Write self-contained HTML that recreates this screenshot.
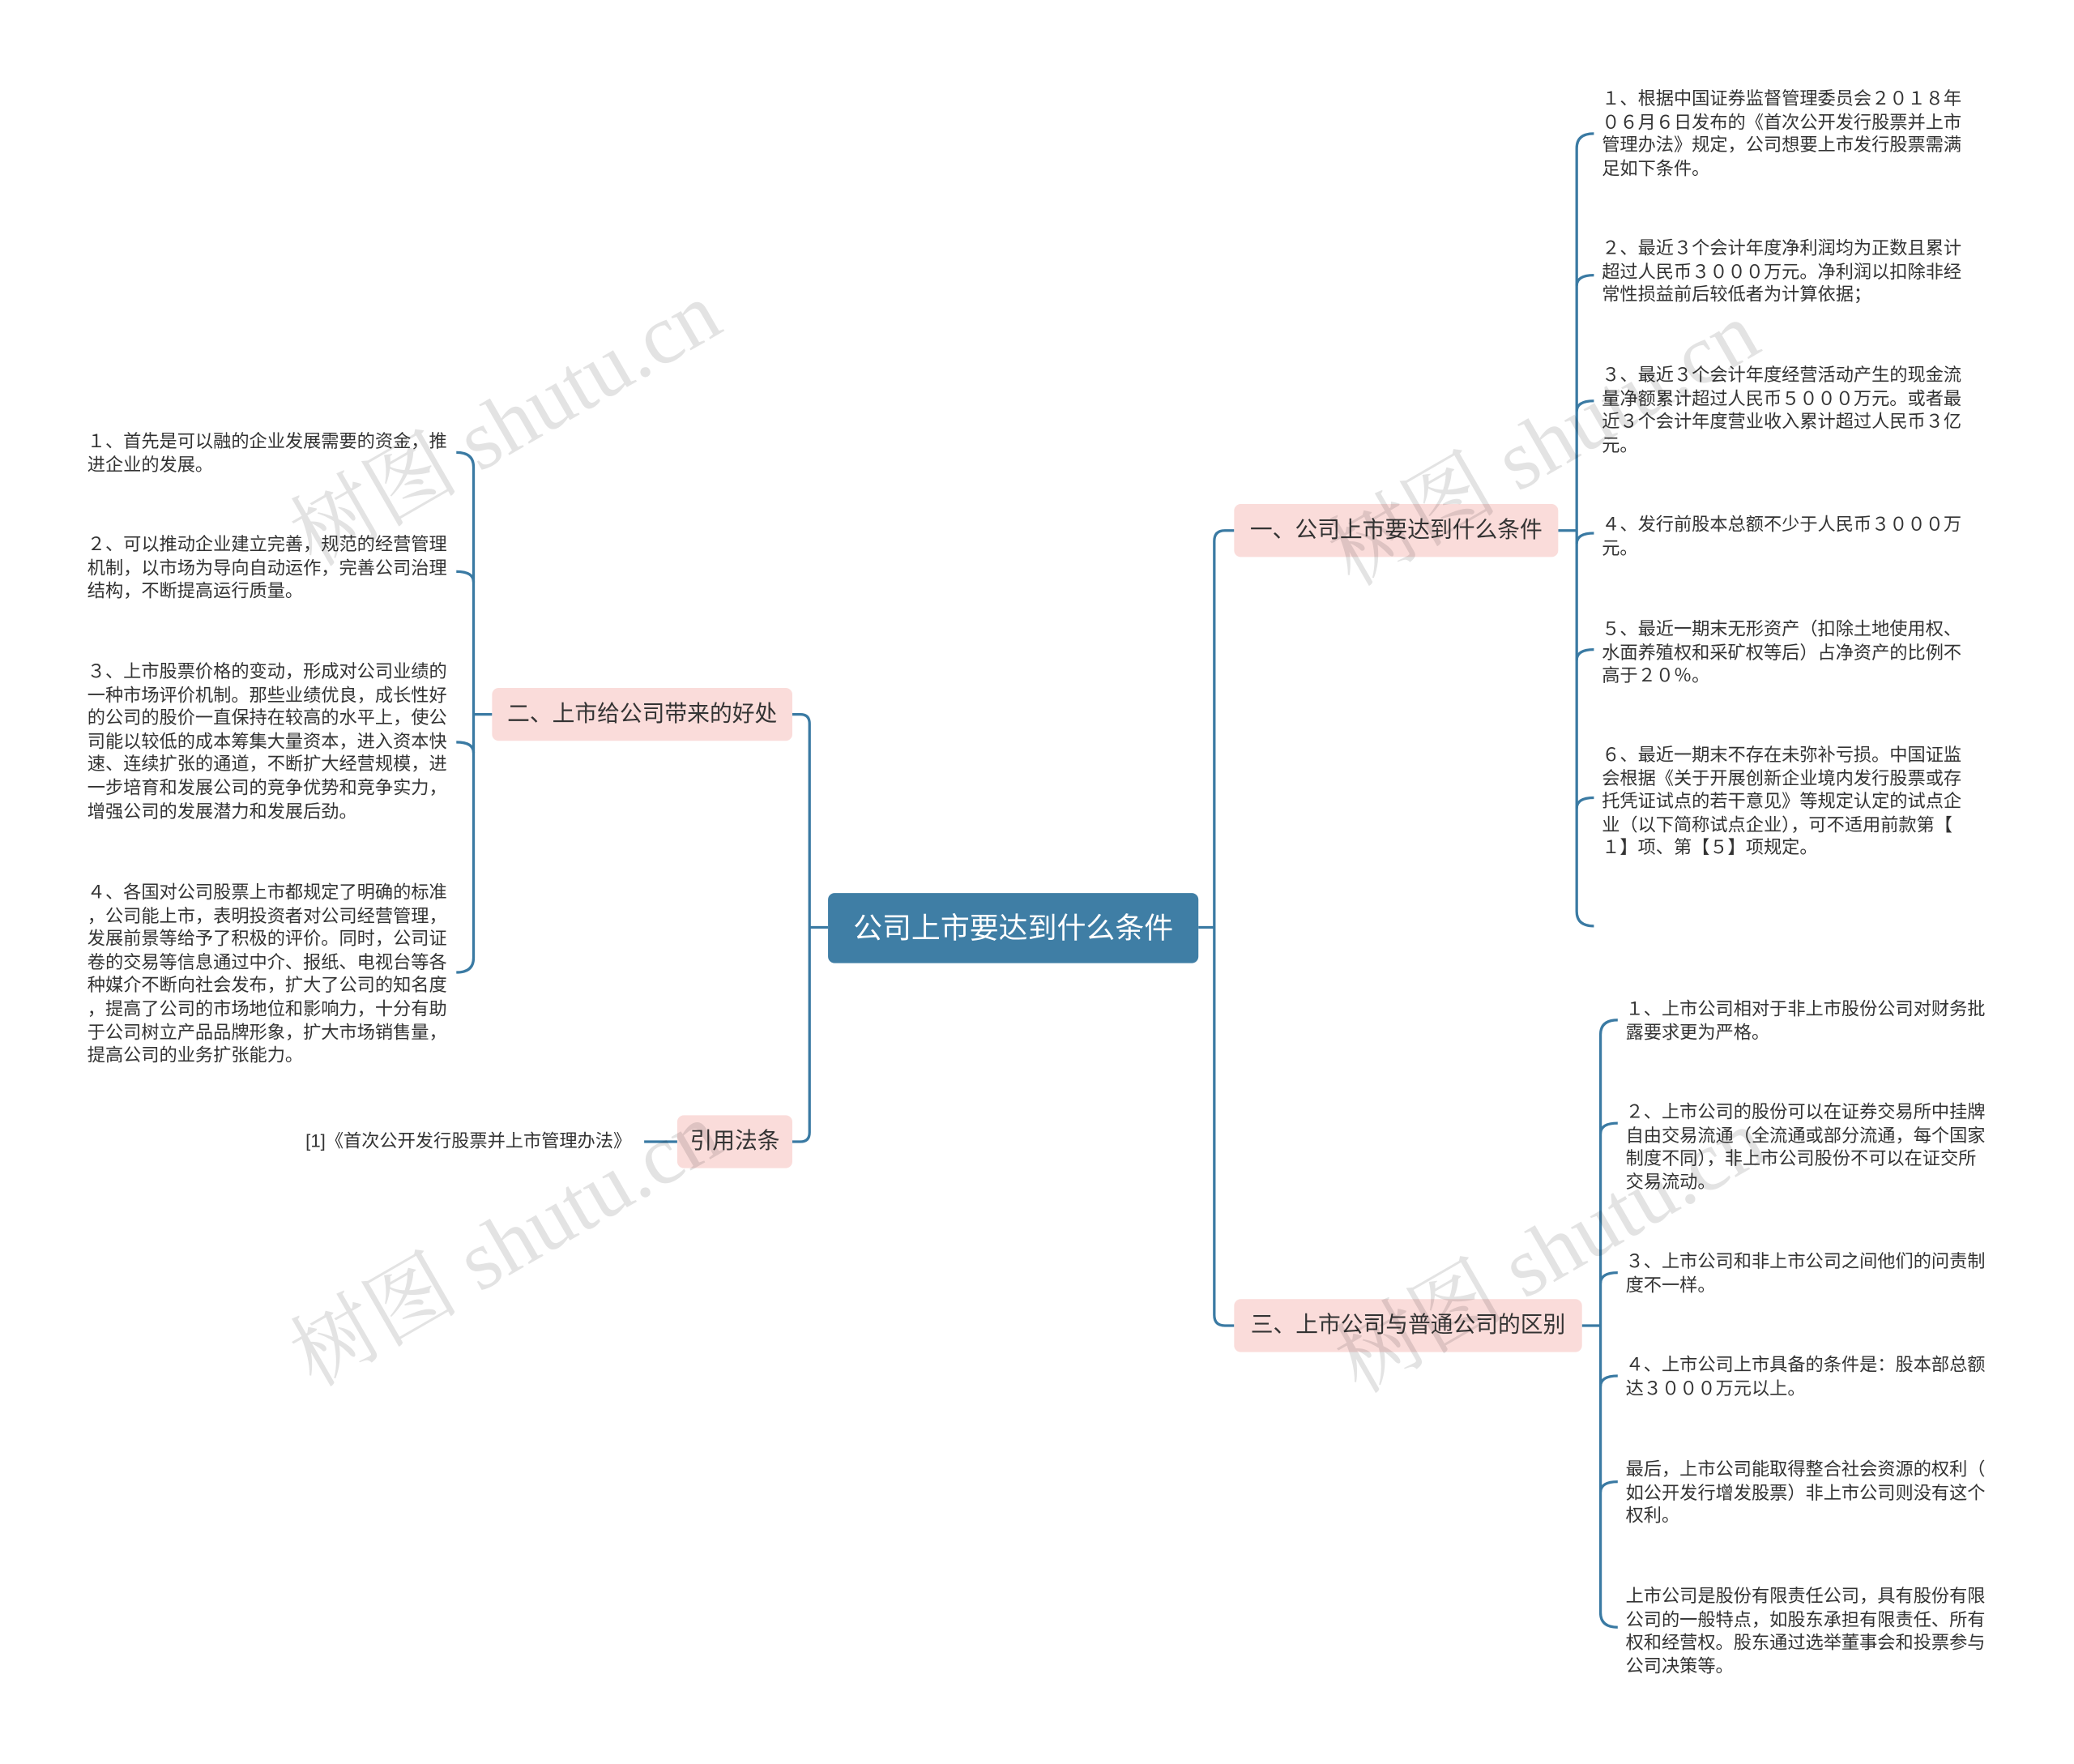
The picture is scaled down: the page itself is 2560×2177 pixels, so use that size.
<!DOCTYPE html>
<html><head><meta charset="utf-8"><style>
html,body{margin:0;padding:0;background:#fff;}
body{width:2560px;height:2177px;overflow:hidden;position:relative;}
#c{position:absolute;left:0;top:0;width:1568px;height:1333px;transform:scale(1.6327);transform-origin:0 0;font-family:"Liberation Sans","Noto Sans CJK SC",sans-serif;}
.t{position:absolute;font-size:13.6px;line-height:17.6px;color:#333;white-space:nowrap;}
.b{position:absolute;background:#fadcda;border-radius:5px;height:40px;line-height:40px;font-size:17px;color:#333;text-align:center;}
.wm{position:absolute;font-family:"Liberation Serif","Noto Serif CJK SC",serif;font-size:64px;color:rgba(0,0,0,0.11);white-space:nowrap;transform:rotate(-30deg);transform-origin:center;}
</style></head><body><div id="c">
<svg width="1568" height="1333" style="position:absolute;left:0;top:0" fill="none" stroke="#3a7aa3" stroke-width="2">
<path d="M906 701 H918"/>
<path d="M933 401 H926 Q918 401 918 409 V994 Q918 1002 926 1002 H933"/>
<path d="M626 701 H612"/>
<path d="M599 540 H605 Q612 540 612 547 V856 Q612 863 605 863 H599"/>
<path d="M512 863 H487"/>
<path d="M1178 401 H1192"/>
<path d="M1205 101 Q1192 101 1192 112 V689 Q1192 700 1205 700"/>
<path d="M1192 216 Q1192 208 1205 208"/>
<path d="M1192 311 Q1192 303 1205 303"/>
<path d="M1192 411 Q1192 403 1205 403"/>
<path d="M1192 499 Q1192 491 1205 491"/>
<path d="M1192 611 Q1192 603 1205 603"/>
<path d="M1196 1002 H1210"/>
<path d="M1223 771 Q1210 771 1210 782 V1219 Q1210 1230 1223 1230"/>
<path d="M1210 857 Q1210 849 1223 849"/>
<path d="M1210 970 Q1210 962 1223 962"/>
<path d="M1210 1048 Q1210 1040 1223 1040"/>
<path d="M1210 1128 Q1210 1120 1223 1120"/>
<path d="M358 540 H372"/>
<path d="M345 342 Q358 342 358 353 V724 Q358 735 345 735"/>
<path d="M358 440 Q358 432 345 432"/>
<path d="M358 569 Q358 561 345 561"/>
</svg>
<div style="position:absolute;left:626px;top:675px;width:280px;height:53px;background:#3f7ea5;border-radius:5px;color:#fff;font-size:22px;line-height:53px;text-align:center;">公司上市要达到什么条件</div>
<div class="b" style="left:933px;top:381px;width:245px;">一、公司上市要达到什么条件</div>
<div class="b" style="left:372px;top:520px;width:227px;">二、上市给公司带来的好处</div>
<div class="b" style="left:512px;top:843px;width:87px;">引用法条</div>
<div class="b" style="left:933px;top:982px;width:263px;">三、上市公司与普通公司的区别</div>

<div class="t" style="left:1211px;top:66px;">１、根据中国证券监督管理委员会２０１８年<br>０６月６日发布的《首次公开发行股票并上市<br>管理办法》规定，公司想要上市发行股票需满<br>足如下条件。</div>
<div class="t" style="left:1211px;top:179px;">２、最近３个会计年度净利润均为正数且累计<br>超过人民币３０００万元。净利润以扣除非经<br>常性损益前后较低者为计算依据；</div>
<div class="t" style="left:1211px;top:275px;">３、最近３个会计年度经营活动产生的现金流<br>量净额累计超过人民币５０００万元。或者最<br>近３个会计年度营业收入累计超过人民币３亿<br>元。</div>
<div class="t" style="left:1211px;top:388px;">４、发行前股本总额不少于人民币３０００万<br>元。</div>
<div class="t" style="left:1211px;top:467px;">５、最近一期末无形资产（扣除土地使用权、<br>水面养殖权和采矿权等后）占净资产的比例不<br>高于２０％。</div>
<div class="t" style="left:1211px;top:562px;">６、最近一期末不存在未弥补亏损。中国证监<br>会根据《关于开展创新企业境内发行股票或存<br>托凭证试点的若干意见》等规定认定的试点企<br>业（以下简称试点企业），可不适用前款第【<br>１】项、第【５】项规定。</div>

<div class="t" style="left:1229px;top:754px;">１、上市公司相对于非上市股份公司对财务批<br>露要求更为严格。</div>
<div class="t" style="left:1229px;top:832px;">２、上市公司的股份可以在证券交易所中挂牌<br>自由交易流通（全流通或部分流通，每个国家<br>制度不同），非上市公司股份不可以在证交所<br>交易流动。</div>
<div class="t" style="left:1229px;top:945px;">３、上市公司和非上市公司之间他们的问责制<br>度不一样。</div>
<div class="t" style="left:1229px;top:1023px;">４、上市公司上市具备的条件是：股本部总额<br>达３０００万元以上。</div>
<div class="t" style="left:1229px;top:1102px;">最后，上市公司能取得整合社会资源的权利（<br>如公开发行增发股票）非上市公司则没有这个<br>权利。</div>
<div class="t" style="left:1229px;top:1198px;">上市公司是股份有限责任公司，具有股份有限<br>公司的一般特点，如股东承担有限责任、所有<br>权和经营权。股东通过选举董事会和投票参与<br>公司决策等。</div>

<div class="t" style="left:66px;top:325px;">１、首先是可以融的企业发展需要的资金，推<br>进企业的发展。</div>
<div class="t" style="left:66px;top:403px;">２、可以推动企业建立完善，规范的经营管理<br>机制，以市场为导向自动运作，完善公司治理<br>结构，不断提高运行质量。</div>
<div class="t" style="left:66px;top:499px;">３、上市股票价格的变动，形成对公司业绩的<br>一种市场评价机制。那些业绩优良，成长性好<br>的公司的股价一直保持在较高的水平上，使公<br>司能以较低的成本筹集大量资本，进入资本快<br>速、连续扩张的通道，不断扩大经营规模，进<br>一步培育和发展公司的竞争优势和竞争实力，<br>增强公司的发展潜力和发展后劲。</div>
<div class="t" style="left:66px;top:666px;">４、各国对公司股票上市都规定了明确的标准<br>，公司能上市，表明投资者对公司经营管理，<br>发展前景等给予了积极的评价。同时，公司证<br>卷的交易等信息通过中介、报纸、电视台等各<br>种媒介不断向社会发布，扩大了公司的知名度<br>，提高了公司的市场地位和影响力，十分有助<br>于公司树立产品品牌形象，扩大市场销售量，<br>提高公司的业务扩张能力。</div>
<div class="t" style="left:231px;top:854px;">[1]《首次公开发行股票并上市管理办法》</div>

<div class="wm" style="left:200px;top:270px;">树图 shutu.cn</div>
<div class="wm" style="left:200px;top:890px;">树图 shutu.cn</div>
<div class="wm" style="left:985px;top:285px;">树图 shutu.cn</div>
<div class="wm" style="left:990px;top:895px;">树图 shutu.cn</div>
</div></body></html>
